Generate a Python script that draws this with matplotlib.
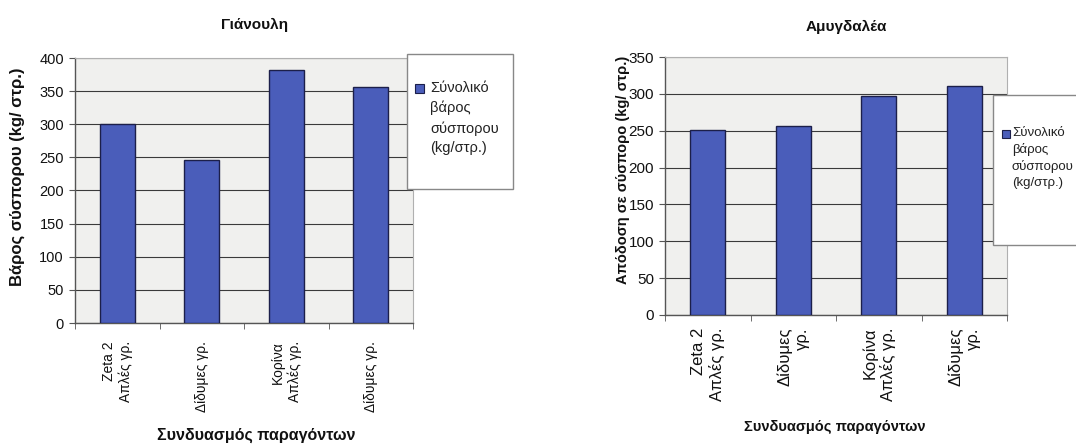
import matplotlib.pyplot as plt
from matplotlib.patches import Rectangle
import numpy as np

# yields per combination of factors
labels_gian = ["Zeta 2\nΑπλές γρ.", "Δίδυμες γρ.", "Κορίνα\nΑπλές γρ.", "Δίδυμες γρ."]
values_gian = [300, 246, 382, 356]

labels_amyg = ["Zeta 2\nΑπλές γρ.", "Δίδυμες\nγρ.", "Κορίνα\nΑπλές γρ.", "Δίδυμες\nγρ."]
values_amyg = [251, 257, 297, 311]

legend_text = "Σύνολικό\nβάρος\nσύσπορου\n(kg/στρ.)"

BAR = "#4a5dba"
EDGE = "#1c1f4a"
PLOT_BG = "#f0f0ee"
GRID = "#3a3a3a"

SANS = ["Liberation Sans", "DejaVu Sans"]

plt.rcParams["font.family"] = SANS

W, H = 1076, 444
fig = plt.figure(figsize=(W / 100, H / 100), dpi=100)


def px(x, y):
    return x / W, 1 - y / H


def bar_panel(rect, labels, values, ymax, xtick_size, ytick_size, xtick_pad):
    ax = fig.add_axes(rect)
    ax.set_facecolor(PLOT_BG)
    x = np.arange(len(values))
    ax.bar(x, values, width=0.41, color=BAR, edgecolor=EDGE, linewidth=1.0, zorder=3)
    ax.set_xlim(-0.5, len(values) - 0.5)
    ax.set_ylim(0, ymax)
    ax.set_yticks(np.arange(0, ymax + 1, 50))
    ax.yaxis.grid(True, color=GRID, linewidth=0.8)
    ax.set_axisbelow(True)
    ax.set_xticks(x)
    ax.set_xticklabels(labels, rotation=90, ha="center", va="top",
                       multialignment="right", fontsize=xtick_size, color="#111111")
    ax.set_xticks(np.arange(-0.5, len(values), 1.0), minor=True)
    ax.tick_params(axis="x", which="major", length=0, pad=xtick_pad)
    ax.tick_params(axis="x", which="minor", length=4, direction="out", color="#555555")
    ax.tick_params(axis="y", length=4, direction="out", color="#555555", pad=4,
                   labelsize=ytick_size, labelcolor="#111111")
    for s in ("left", "bottom"):
        ax.spines[s].set_color("#555555")
        ax.spines[s].set_linewidth(1.0)
    for s in ("top", "right"):
        ax.spines[s].set_color("#b0b0b0")
        ax.spines[s].set_linewidth(0.8)
    return ax


def legend_box(x0, y0, x1, y1, sq_x, sq_y, sq, text_x, size, spacing):
    bx, by = px(x0, y1)
    fig.patches.append(Rectangle((bx, by), (x1 - x0) / W, (y1 - y0) / H,
                                 transform=fig.transFigure, facecolor="white",
                                 edgecolor="#888888", linewidth=1.0, zorder=5))
    qx, qy = px(sq_x, sq_y + sq)
    fig.patches.append(Rectangle((qx, qy), sq / W, sq / H, transform=fig.transFigure,
                                 facecolor=BAR, edgecolor=EDGE, linewidth=0.8, zorder=6))
    tx, ty = px(text_x, sq_y - 3)
    fig.text(tx, ty, legend_text, ha="left", va="top", fontsize=size,
             linespacing=spacing, color="#222222", zorder=7)


# Γιάνουλη
ax1 = bar_panel([75 / W, 1 - 323 / H, 338 / W, 265 / H], labels_gian, values_gian,
                400, 10, 10.5, 13)
fig.text(*px(255, 25), "Γιάνουλη", ha="center", va="center",
         fontsize=11, fontweight="bold", color="#111111")
fig.text(*px(17, 177), "Βάρος σύσπορου (kg/ στρ.)", rotation=90, ha="center",
         va="center", fontsize=12, fontweight="bold", color="#111111")
fig.text(*px(256, 435), "Συνδυασμός παραγόντων", ha="center", va="center",
         fontsize=11.5, fontweight="bold", color="#111111")
legend_box(407, 54, 513, 189, 415, 84, 9, 430, 10.5, 1.5)

# Αμυγδαλέα
ax2 = bar_panel([665 / W, 1 - 315 / H, 342 / W, 258 / H], labels_amyg, values_amyg,
                350, 12, 11, 9)
fig.text(*px(846, 27), "Αμυγδαλέα", ha="center", va="center",
         fontsize=11, fontweight="bold", color="#111111")
fig.text(*px(623, 170), "Απόδοση σε σύσπορο (kg/ στρ.)", rotation=90, ha="center",
         va="center", fontsize=10.5, fontweight="bold", color="#111111")
fig.text(*px(835, 427), "Συνδυασμός παραγόντων", ha="center", va="center",
         fontsize=10.5, fontweight="bold", color="#111111")
legend_box(993, 95, 1085, 245, 1002, 130, 8, 1012, 9.5, 1.4)

fig.savefig("out.png", dpi=100, facecolor="white")
